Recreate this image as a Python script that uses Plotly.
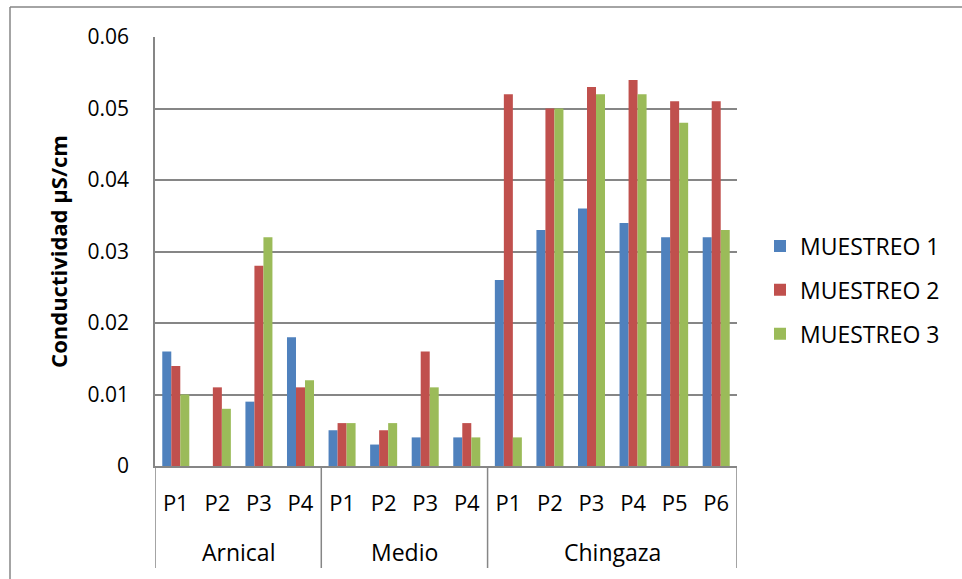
import plotly.graph_objects as go

groups = ["Arnical"] * 4 + ["Medio"] * 4 + ["Chingaza"] * 6
points = ["P1", "P2", "P3", "P4", "P1", "P2", "P3", "P4", "P1", "P2", "P3", "P4", "P5", "P6"]

muestreo1 = [0.016, 0.0, 0.009, 0.018, 0.005, 0.003, 0.004, 0.004, 0.026, 0.033, 0.036, 0.034, 0.032, 0.032]
muestreo2 = [0.014, 0.011, 0.028, 0.011, 0.006, 0.005, 0.016, 0.006, 0.052, 0.050, 0.053, 0.054, 0.051, 0.051]
muestreo3 = [0.010, 0.008, 0.032, 0.012, 0.006, 0.006, 0.011, 0.004, 0.004, 0.050, 0.052, 0.052, 0.048, 0.033]

series_names = ["MUESTREO 1", "MUESTREO 2", "MUESTREO 3"]
colors = ["#4F81BD", "#C0504D", "#9BBB59"]
y_ticks = [0, 0.01, 0.02, 0.03, 0.04, 0.05, 0.06]
y_tick_text = ["0", "0.01", "0.02", "0.03", "0.04", "0.05", "0.06"]

FONT = "'Open Sans', Lato, sans-serif"
GRID = "#868686"

# unique category ids, shown with the point labels
cat_ids = [f"{g}|{p}" for g, p in zip(groups, points)]

fig = go.Figure()
for name, vals, col in zip(series_names, [muestreo1, muestreo2, muestreo3], colors):
    fig.add_trace(go.Bar(
        x=cat_ids, y=vals, name=name, legendgroup=name,
        marker=dict(color=col, line=dict(width=0)),
    ))

W, H = 962, 579
L, R, T, B = 155, 737, 37, 466
pw, ph = R - L, B - T

def px_x(x):
    return (x - L) / pw

def px_y(y):
    return (B - y) / ph

# group spans (in category index units)
group_names = []
for g in groups:
    if g not in group_names:
        group_names.append(g)
spans = []
for g in group_names:
    idx = [i for i, gg in enumerate(groups) if gg == g]
    spans.append((g, idx[0], idx[-1]))

annotations = []
shapes = []
for g, i0, i1 in spans:
    annotations.append(dict(
        x=(i0 + i1) / 2, xref="x", y=px_y(552), yref="paper",
        text=g, showarrow=False, xanchor="center", yanchor="middle",
        font=dict(size=23, family=FONT, color="black"),
    ))
boundaries = [spans[0][1] - 0.5] + [i1 + 0.5 for _, _, i1 in spans]
for bx in boundaries:
    shapes.append(dict(type="line", xref="x", yref="paper",
                       x0=bx, x1=bx, y0=0, y1=px_y(568),
                       line=dict(color=GRID, width=1.5)))

shapes += [
    dict(type="line", xref="paper", yref="paper",
         x0=px_x(10), x1=px_x(10), y0=px_y(7), y1=px_y(579),
         line=dict(color=GRID, width=1.5)),
    dict(type="line", xref="paper", yref="paper",
         x0=px_x(10), x1=px_x(962), y0=px_y(7), y1=px_y(7),
         line=dict(color=GRID, width=1.5)),
]

fig.update_layout(
    width=W, height=H,
    margin=dict(l=L, r=W - R, t=T, b=H - B, autoexpand=False),
    paper_bgcolor="white", plot_bgcolor="white",
    barmode="group", bargap=0.35, bargroupgap=0,
    font=dict(family=FONT, size=21, color="black"),
    showlegend=True,
    legend=dict(x=px_x(760), y=px_y(290), xanchor="left", yanchor="middle",
                font=dict(size=23, family=FONT), tracegroupgap=11,
                traceorder="grouped",
                itemwidth=30, bgcolor="rgba(0,0,0,0)"),
    xaxis=dict(
        type="category", showgrid=False,
        showline=True, linecolor=GRID, linewidth=1.5,
        ticks="", tickvals=cat_ids, ticktext=points,
        tickangle=0,
        tickfont=dict(size=22, family=FONT),
        ticklabelstandoff=17,
        range=[-0.5, len(cat_ids) - 0.5],
    ),
    yaxis=dict(
        range=[0, 0.06], tickvals=y_ticks, ticktext=y_tick_text,
        showgrid=True, gridcolor=GRID, gridwidth=1.5,
        showline=True, linecolor=GRID, linewidth=1.5,
        zeroline=False, ticks="", ticklen=0,
        tickfont=dict(size=21, family=FONT),
        ticklabelstandoff=20,
        title=dict(text="<b>Conductividad µS/cm</b>", font=dict(size=22, family=FONT), standoff=14),
    ),
    annotations=annotations,
    shapes=shapes,
)

fig.write_html("out.html", config={"displayModeBar": False},
               post_script="document.body.style.margin='0';")
